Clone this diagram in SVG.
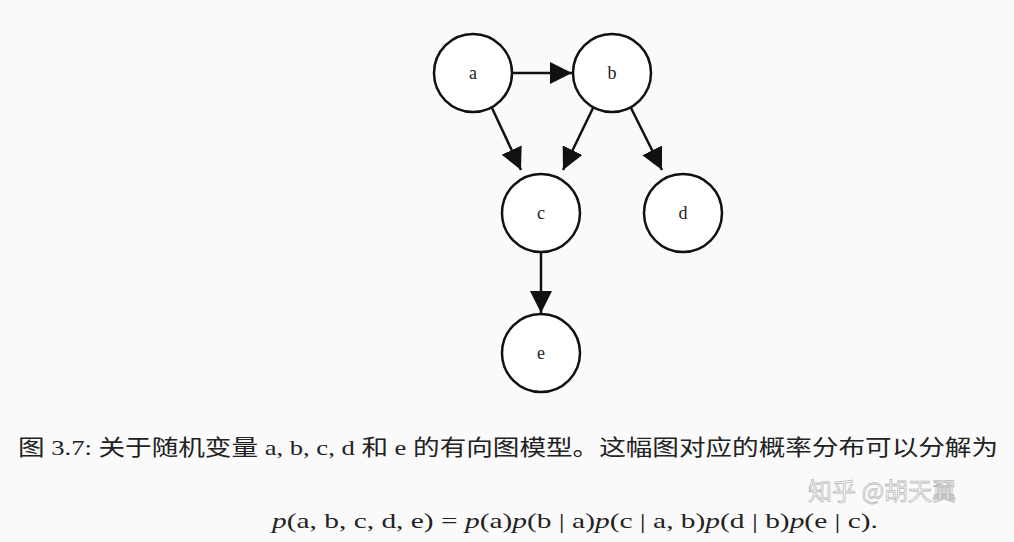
<svg xmlns="http://www.w3.org/2000/svg" width="1014" height="542" viewBox="0 0 1014 542">
<style>
.n circle{fill:#fff;stroke:#111;stroke-width:2.5}
.n text{font-family:"Liberation Serif",serif;font-size:18px;fill:#222;text-anchor:middle}
.e line{stroke:#111;stroke-width:2.5;marker-end:url(#a2)}
.cap{font-family:"Liberation Serif","Noto Sans CJK SC",serif;font-size:22px;fill:#222}
.wm{font-family:"Noto Sans CJK SC",sans-serif;font-size:24px;fill:#fff;stroke:#bbb;stroke-width:0.8}
</style>
<defs>
<marker id="a2" viewBox="0 0 10 10" refX="10" refY="5" markerWidth="22" markerHeight="22" orient="auto" markerUnits="userSpaceOnUse"><path d="M0,0 L10,5 L0,10 z" fill="#111"/></marker></defs>
<rect width="1014" height="542" fill="#fafafa"/>
<g class="e" id="edges">
<line x1="513" y1="73" x2="572" y2="73"/>
<line x1="492" y1="108" x2="521" y2="170"/>
<line x1="593" y1="108" x2="563" y2="170"/>
<line x1="631" y1="108" x2="662" y2="170"/>
<line x1="541" y1="251" x2="541" y2="313"/>
</g>
<g class="n" id="a"><circle cx="473" cy="73" r="39"/><text x="473" y="79">a</text></g>
<g class="n" id="b"><circle cx="612" cy="73" r="39"/><text x="612" y="79">b</text></g>
<g class="n" id="c"><circle cx="541" cy="213" r="39"/><text x="541" y="219">c</text></g>
<g class="n" id="d"><circle cx="683" cy="213" r="39"/><text x="683" y="219">d</text></g>
<g class="n" id="e"><circle cx="541" cy="353" r="39"/><text x="541" y="359">e</text></g>
<text class="cap" x="18" y="455" textLength="980" lengthAdjust="spacingAndGlyphs">图 3.7: 关于随机变量 a, b, c, d 和 e 的有向图模型。这幅图对应的概率分布可以分解为</text>
<text class="cap" x="272" y="528" textLength="606" lengthAdjust="spacingAndGlyphs"><tspan font-style="italic">p</tspan>(a, b, c, d, e) = <tspan font-style="italic">p</tspan>(a)<tspan font-style="italic">p</tspan>(b | a)<tspan font-style="italic">p</tspan>(c | a, b)<tspan font-style="italic">p</tspan>(d | b)<tspan font-style="italic">p</tspan>(e | c).</text>
<text class="wm" x="808" y="500">知乎 @胡天翼</text>
</svg>
